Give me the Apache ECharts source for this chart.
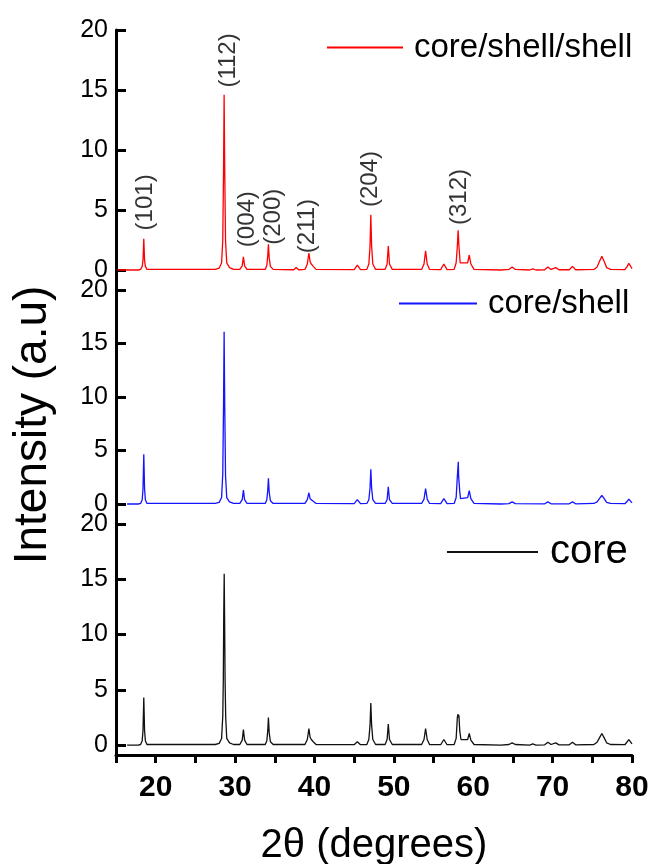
<!DOCTYPE html>
<html>
<head>
<meta charset="utf-8">
<script src="https://cdn.jsdelivr.net/npm/echarts@6/dist/echarts.min.js"></script>
<style>
  html, body { margin: 0; padding: 0; background: #fff; }
  #wrap { position: relative; width: 652px; height: 864px; }
  #plot, #notes { position: absolute; left: 0; top: 0; width: 652px; height: 864px; }
</style>
</head>
<body>
<div id="wrap">
  <div id="plot"></div>
  <div id="notes"></div>
</div>
<script>
// XRD patterns, [2theta, intensity]
var coreShellShell = [
  [15.2, 0], [17.8, 0],
  [18.1, 0.05], [18.3, 0.3], [18.4, 0.8], [18.5, 2.6], [18.6, 0.8], [18.7, 0.3], [18.9, 0.05],
  [27.5, 0.05], [28.0, 0.15], [28.3, 0.6], [28.45, 2.5], [28.55, 8.5], [28.62, 14.6], [28.7, 8.0], [28.8, 2.4], [28.95, 0.6], [29.3, 0.2], [29.8, 0.05],
  [30.6, 0.05], [30.9, 0.35], [31.05, 1.1], [31.2, 0.35], [31.5, 0.05],
  [33.8, 0.05], [34.0, 0.4], [34.12, 1.2], [34.2, 2.15], [34.3, 1.0], [34.45, 0.3], [34.8, 0.05],
  [37.4, 0.02], [37.7, 0.2], [38.0, 0.02],
  [38.8, 0.05], [39.1, 0.5], [39.3, 1.4], [39.45, 0.7], [39.6, 0.5], [39.7, 0.6], [39.85, 0.3], [40.2, 0.05],
  [45.0, 0.03], [45.4, 0.4], [45.8, 0.03],
  [46.6, 0.05], [46.85, 0.5], [47.0, 2.0], [47.1, 4.6], [47.2, 2.0], [47.35, 0.5], [47.7, 0.05],
  [48.9, 0.05], [49.15, 0.5], [49.3, 2.0], [49.45, 0.5], [49.8, 0.05],
  [53.5, 0.05], [53.8, 0.5], [54.0, 1.6], [54.2, 0.5], [54.5, 0.05],
  [55.9, 0.03], [56.3, 0.5], [56.7, 0.03],
  [57.6, 0.05], [57.85, 0.6], [58.0, 2.0], [58.1, 3.3], [58.2, 2.0], [58.35, 0.6],
  [59.3, 0.6], [59.5, 1.25], [59.7, 0.5], [60.1, 0.05],
  [63.5, 0], [64.5, 0.05], [64.9, 0.25], [65.3, 0.05], [67.1, 0], [67.5, 0.1], [67.9, 0],
  [69.0, 0.02], [69.4, 0.25], [69.8, 0.05], [70.4, 0.2], [70.8, 0.02], [72.1, 0.02], [72.5, 0.3], [72.9, 0.02],
  [75.2, 0.05], [75.6, 0.25], [75.9, 0.7], [76.2, 1.15], [76.5, 0.7], [76.8, 0.2], [77.3, 0.05],
  [79.1, 0.03], [79.4, 0.3], [79.6, 0.55], [79.8, 0.35], [80.0, 0.1]
];

var coreShell = [
  [16.4, 0], [17.8, 0],
  [18.1, 0.05], [18.3, 0.4], [18.4, 1.4], [18.5, 4.65], [18.6, 1.4], [18.7, 0.4], [18.9, 0.05],
  [27.5, 0.05], [28.0, 0.15], [28.3, 0.6], [28.45, 2.8], [28.55, 9.5], [28.62, 16.1], [28.7, 9.0], [28.8, 2.6], [28.95, 0.6], [29.3, 0.2], [29.8, 0.05],
  [30.6, 0.05], [30.9, 0.4], [31.05, 1.3], [31.2, 0.4], [31.5, 0.05],
  [33.8, 0.05], [34.0, 0.4], [34.12, 1.3], [34.2, 2.4], [34.3, 1.1], [34.45, 0.3], [34.8, 0.05],
  [38.8, 0.05], [39.1, 0.4], [39.3, 1.05], [39.45, 0.5], [39.6, 0.4], [39.7, 0.5], [39.85, 0.25], [40.2, 0.05],
  [45.0, 0.03], [45.4, 0.4], [45.8, 0.03],
  [46.6, 0.05], [46.85, 0.4], [47.0, 1.5], [47.1, 3.25], [47.2, 1.5], [47.35, 0.4], [47.7, 0.05],
  [48.9, 0.05], [49.15, 0.4], [49.3, 1.6], [49.45, 0.4], [49.8, 0.05],
  [53.5, 0.05], [53.8, 0.45], [54.0, 1.45], [54.2, 0.45], [54.5, 0.05],
  [55.9, 0.03], [56.3, 0.5], [56.7, 0.03],
  [57.6, 0.05], [57.85, 0.6], [58.0, 2.6], [58.08, 2.7], [58.12, 3.95], [58.16, 2.6], [58.3, 1.2], [58.4, 0.5],
  [59.3, 0.6], [59.5, 1.25], [59.7, 0.5], [60.1, 0.05],
  [63.5, 0], [64.5, 0.03], [64.9, 0.2], [65.3, 0.03], [69.0, 0.02], [69.4, 0.2], [69.8, 0.02],
  [72.1, 0.02], [72.5, 0.2], [72.9, 0.02],
  [75.2, 0.05], [75.6, 0.2], [75.9, 0.5], [76.2, 0.8], [76.5, 0.5], [76.8, 0.15], [77.3, 0.05],
  [79.1, 0.03], [79.4, 0.25], [79.6, 0.45], [79.8, 0.3], [80.0, 0.1]
];

var core = [
  [16.4, 0], [17.8, 0],
  [18.1, 0.05], [18.3, 0.4], [18.4, 1.3], [18.5, 4.3], [18.6, 1.3], [18.7, 0.4], [18.9, 0.05],
  [27.5, 0.05], [28.0, 0.15], [28.3, 0.6], [28.45, 2.6], [28.52, 6.0], [28.57, 11.6], [28.63, 15.5], [28.68, 11.6], [28.74, 6.0], [28.82, 2.5], [28.95, 0.6], [29.3, 0.2], [29.8, 0.05],
  [30.6, 0.05], [30.9, 0.45], [31.05, 1.4], [31.2, 0.45], [31.5, 0.05],
  [33.8, 0.05], [34.0, 0.4], [34.12, 1.3], [34.2, 2.5], [34.3, 1.1], [34.45, 0.3], [34.8, 0.05],
  [38.8, 0.05], [39.1, 0.5], [39.3, 1.5], [39.45, 0.7], [39.6, 0.5], [39.7, 0.6], [39.85, 0.3], [40.2, 0.05],
  [45.0, 0.03], [45.4, 0.3], [45.8, 0.03],
  [46.6, 0.05], [46.85, 0.5], [47.0, 1.8], [47.1, 3.8], [47.2, 1.8], [47.35, 0.5], [47.7, 0.05],
  [48.9, 0.05], [49.15, 0.5], [49.3, 1.9], [49.45, 0.5], [49.8, 0.05],
  [53.5, 0.05], [53.8, 0.5], [54.0, 1.5], [54.2, 0.5], [54.5, 0.05],
  [55.9, 0.03], [56.3, 0.5], [56.7, 0.03],
  [57.6, 0.05], [57.85, 0.6], [58.0, 2.5], [58.08, 2.8], [58.14, 2.5], [58.2, 2.7], [58.3, 1.3], [58.45, 0.5],
  [59.3, 0.5], [59.5, 1.05], [59.7, 0.45], [60.1, 0.05],
  [63.5, 0], [64.5, 0.05], [64.9, 0.2], [65.3, 0.05], [67.1, 0], [67.5, 0.1], [67.9, 0],
  [69.0, 0.02], [69.4, 0.25], [69.8, 0.05], [70.4, 0.2], [70.8, 0.02], [72.1, 0.02], [72.5, 0.25], [72.9, 0.02],
  [75.2, 0.05], [75.6, 0.25], [75.9, 0.65], [76.2, 1.05], [76.5, 0.65], [76.8, 0.2], [77.3, 0.05],
  [79.1, 0.03], [79.4, 0.3], [79.6, 0.5], [79.8, 0.35], [80.0, 0.1]
];

// hkl labels on the top pattern: name, 2theta, intensity where the label starts
var hklNames = ['(101)', '(112)', '(004)', '(200)', '(211)', '(204)', '(312)'];
var hklX = [18.65, 29.1, 31.5, 34.8, 39.05, 47.0, 58.3];
var hklY = [3.3, 15.2, 1.9, 2.1, 1.4, 5.25, 3.75];

var yTicks = [0, 5, 10, 15, 20];
var seriesNames = ['core/shell/shell', 'core/shell', 'core'];
var seriesColors = ['#ff0000', '#1414ff', '#111111'];

var FONT = "'Liberation Sans', Arial, sans-serif";

var grids = [
  { left: 116, right: 20, top: 30, height: 260 },
  { left: 116, right: 20, top: 290, height: 234 },
  { left: 116, right: 20, top: 524, height: 231 }
];
var yMins = [-5 / 3, -1.87, -0.9];

function yAx(idx) {
  return {
    type: 'value', gridIndex: idx, min: yMins[idx], max: 20, position: 'left',
    axisLine: { show: true, onZero: false, lineStyle: { color: '#000', width: 3 } },
    axisTick: { show: true, inside: true, length: 10, customValues: yTicks, lineStyle: { color: '#000', width: 3 } },
    axisLabel: { show: true, customValues: yTicks, color: '#000', fontSize: 25, margin: 8 },
    splitLine: { show: false }
  };
}

function hiddenAx(idx, min, max) {
  return {
    type: 'value', gridIndex: idx, min: min, max: max,
    axisLine: { show: false, onZero: false }, axisTick: { show: false }, axisLabel: { show: false }, splitLine: { show: false }
  };
}

// chart 1: axes and the three patterns
var plot = echarts.init(document.getElementById('plot'));
plot.setOption({
  animation: false,
  grid: grids,
  xAxis: [
    hiddenAx(0, 15, 80),
    hiddenAx(1, 15, 80),
    {
      type: 'value', gridIndex: 2, min: 15, max: 80, interval: 5, position: 'bottom',
      axisLine: { show: true, onZero: false, lineStyle: { color: '#000', width: 3 } },
      axisTick: { show: true, inside: false, length: 8, lineStyle: { color: '#000', width: 3 } },
      axisLabel: {
        show: true, color: '#000', fontSize: 30, fontWeight: 'bold', margin: 18,
        formatter: function (v) { return v % 10 === 0 ? String(v) : ''; }
      },
      splitLine: { show: false }
    }
  ],
  yAxis: [yAx(0), yAx(1), yAx(2)],
  series: [coreShellShell, coreShell, core].map(function (d, i) {
    return {
      name: seriesNames[i], type: 'line', xAxisIndex: i, yAxisIndex: i,
      data: d, showSymbol: false, color: seriesColors[i],
      lineStyle: { width: 1.3, color: seriesColors[i] }
    };
  })
});

// chart 2 on top: legends, hkl labels and axis titles
var notes = echarts.init(document.getElementById('notes'));
notes.setOption({
  animation: false,
  backgroundColor: 'transparent',
  grid: grids,
  xAxis: [hiddenAx(0, 15, 80)],
  yAxis: [hiddenAx(0, yMins[0], 20)],
  legend: [
    {
      data: [seriesNames[0]], left: 327, top: 31, padding: 0, selectedMode: false,
      icon: 'rect', itemWidth: 76, itemHeight: 2,
      textStyle: { color: '#000', fontSize: 33, fontFamily: FONT, padding: [0, 0, 0, 6] }
    },
    {
      data: [seriesNames[1]], left: 399, top: 287, padding: 0, selectedMode: false,
      icon: 'rect', itemWidth: 78, itemHeight: 2,
      textStyle: { color: '#000', fontSize: 33, fontFamily: FONT, padding: [0, 0, 0, 6] }
    },
    {
      data: [seriesNames[2]], left: 447, top: 532, padding: 0, selectedMode: false,
      icon: 'rect', itemWidth: 91, itemHeight: 2,
      textStyle: { color: '#000', fontSize: 40, fontFamily: FONT, padding: [0, 0, 0, 7] }
    }
  ],
  graphic: [
    {
      type: 'text', x: 33, y: 425, rotation: Math.PI / 2,
      style: { text: 'Intensity (a.u)', fill: '#000', fontSize: 46, fontFamily: FONT, align: 'center', verticalAlign: 'middle' }
    },
    {
      type: 'text', x: 374, y: 846,
      style: { text: '2θ (degrees)', fill: '#000', fontSize: 40, fontFamily: FONT, align: 'center', verticalAlign: 'middle' }
    }
  ],
  series: seriesNames.map(function (n, i) {
    return { name: n, type: 'line', data: [], color: seriesColors[i], showSymbol: false };
  }).concat([{
    name: 'hkl', type: 'scatter', data: hklNames.map(function (n, i) { return { name: n, value: [hklX[i], hklY[i]] }; }),
    symbolSize: 0, silent: true,
    label: {
      show: true, position: 'top', distance: 0, rotate: 90, align: 'left', verticalAlign: 'middle',
      formatter: '{b}', color: '#000', fontSize: 24, fontFamily: FONT
    }
  }])
});
</script>
</body>
</html>
